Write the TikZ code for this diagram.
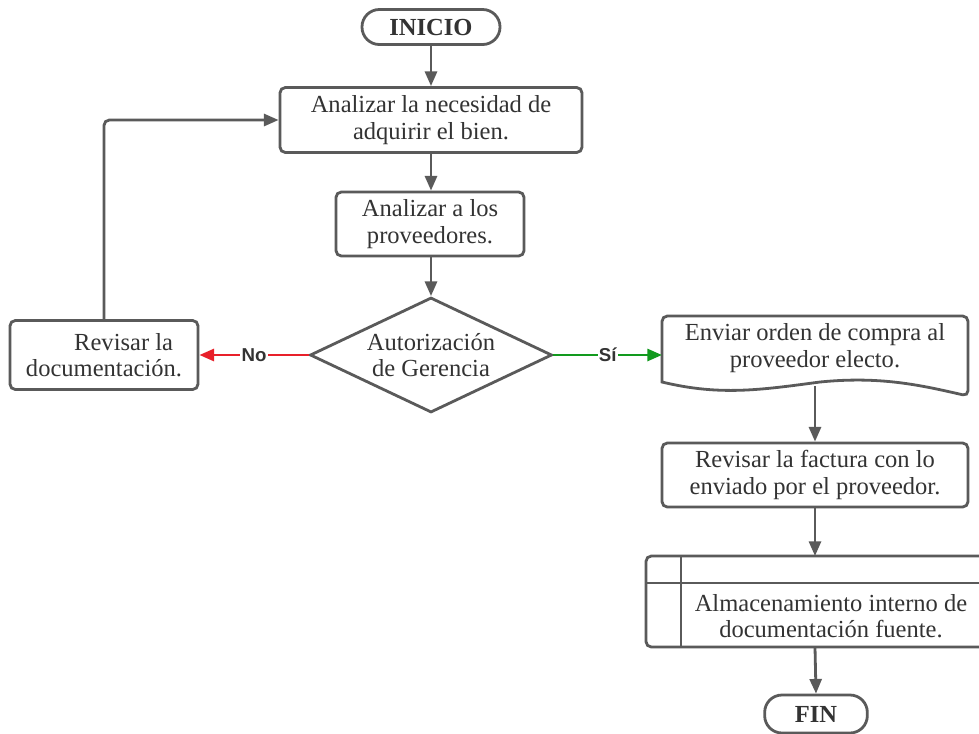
\documentclass[tikz,border=0pt]{standalone}
\usepackage{fontspec}
\setmainfont{Liberation Serif}
\newfontfamily\labelfont{Liberation Sans}
\usetikzlibrary{arrows.meta,shapes.geometric,positioning}
\definecolor{linegray}{HTML}{5A5A5A}
\definecolor{textgray}{HTML}{333333}
\definecolor{noRed}{HTML}{E8202A}
\definecolor{siGreen}{HTML}{129A1E}
\newcommand\boxfont{\fontsize{18.4}{19.8}\selectfont}
\tikzset{
  every node/.style={text=textgray},
  procbox/.style={draw=linegray, line width=2.1pt, rounded corners=4pt, fill=white,
    align=center, font=\boxfont, inner sep=0pt},
  terminal/.style={draw=linegray, line width=2.1pt, rounded corners=13pt, fill=white,
    font=\boxfont\bfseries, inner sep=0pt},
  flow/.style={draw=linegray, line width=2.1pt, -{Triangle[length=11pt,width=9pt]}},
  outline/.style={draw=linegray, line width=2.1pt},
  branchlabel/.style={font=\labelfont\fontsize{14}{14}\selectfont\bfseries, text=textgray,
    fill=white, inner sep=1pt},
}
\begin{document}
\begin{tikzpicture}[x=0.75pt,y=-0.75pt]
\useasboundingbox (0,0) rectangle (979,733);
\clip (0,0) rectangle (979,733);
\fill[white] (0,0) rectangle (979,733);

% start / end terminals
\node[terminal, minimum width=103.5pt, minimum height=26.25pt] (inicio) at (431,27) {INICIO};
\node[terminal, minimum width=77pt, minimum height=28.5pt] (fin) at (816,714) {FIN};

% process boxes
\node[procbox, minimum width=226.5pt, minimum height=48.75pt] (necesidad) at (431,120)
  {Analizar la necesidad de\\adquirir el bien.};
\node[procbox, minimum width=141pt, minimum height=48pt] (proveedores) at (430,224)
  {Analizar a los\\proveedores.};
\node[procbox, minimum width=141pt, minimum height=51.75pt] (revisar) at (104,355)
  {\hspace*{1.6em}Revisar la\\documentación.};
\node[procbox, minimum width=229.5pt, minimum height=48pt] (factura) at (815,475)
  {Revisar la factura con lo\\enviado por el proveedor.};

% decision
\node[diamond, draw=linegray, line width=2.1pt, fill=white, aspect=2.1, inner sep=0pt,
  minimum width=181.5pt, minimum height=86.25pt, align=center,
  font=\boxfont] (autorizacion) at (431,355)
  {Autorización\\de Gerencia};

% document shape (wavy bottom)
\draw[outline, fill=white]
  (968,316) [rounded corners=4pt] -- (968,396) [sharp corners]
  .. controls (920,385) and (880,376) .. (820,382)
  .. controls (760,390) and (720,396) .. (662,382)
  [rounded corners=4pt] -- (662,316) -- cycle;
\node[align=center, font=\boxfont] (orden) at (815,348)
  {Enviar orden de compra al\\proveedor electo.};
\coordinate (ordenleft) at (662,355);
\coordinate (ordenbottom) at (815,386);

% predefined process (extends past the right edge)
\draw[outline, fill=white, rounded corners=4pt] (646,556) rectangle (1000,647);
\draw[outline] (646,583) -- (1000,583);
\draw[outline] (681,556) -- (681,647);
\node[align=center, font=\boxfont] (almacen) at (831,616)
  {Almacenamiento interno de\\documentación fuente.};
\coordinate (almacentop) at (815,556);
\coordinate (almacenbottom) at (815,647);

% connectors
\draw[flow] (inicio) -- (necesidad);
\draw[flow] (necesidad) -- (proveedores.north -| necesidad);
\draw[flow] (proveedores.south -| autorizacion) -- (autorizacion.north);
\draw[flow, draw=noRed, -{Triangle[length=11pt,width=9pt,fill=noRed]}]
  (autorizacion.west) -- node[branchlabel, pos=0.5] {No} (revisar.east);
\draw[flow, draw=siGreen, -{Triangle[length=11pt,width=9pt,fill=siGreen]}]
  (autorizacion.east) -- node[branchlabel, pos=0.5] {Sí} (ordenleft);
\draw[flow, rounded corners=4pt] (revisar.north) |- (necesidad.west);
\draw[flow] (ordenbottom) -- (factura.north);
\draw[flow] (factura.south) -- (almacentop);
\draw[flow] (almacenbottom) -- (fin.north);
\end{tikzpicture}
\end{document}
